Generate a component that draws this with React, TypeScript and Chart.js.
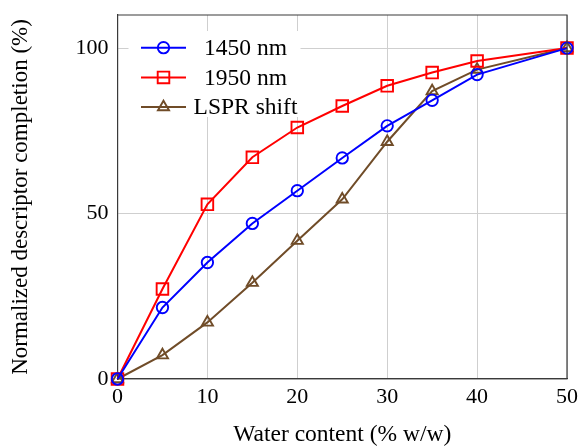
import React, { useEffect, useRef } from "react";
import { Chart, registerables } from "chart.js";

Chart.register(...registerables);

const waterContent = [0, 5, 10, 15, 20, 25, 30, 35, 40, 50];
const nm1450 = [0, 21.6, 35.2, 47.0, 56.9, 66.8, 76.5, 84.2, 92.0, 100];
const nm1950 = [0, 27.2, 52.8, 67.0, 76.0, 82.5, 88.6, 92.6, 96.1, 100];
const lsprShift = [0, 7.2, 17.1, 29.1, 41.8, 54.3, 71.7, 87.0, 93.5, 100];
const xTicks = [0, 10, 20, 30, 40, 50];
const yTicks = [0, 50, 100];
const seriesLabels = ["1450 nm", "1950 nm", "LSPR shift"];

const BROWN = "rgb(112,76,40)";
const FONT = "'Liberation Serif', 'DejaVu Serif', serif";

function drawMarker(ctx: CanvasRenderingContext2D, style: string, r: number, x: number, y: number) {
  ctx.beginPath();
  if (style === "circle") {
    ctx.arc(x, y, r, 0, Math.PI * 2);
  } else if (style === "rect") {
    const s = r * Math.SQRT1_2;
    ctx.rect(x - s, y - s, 2 * s, 2 * s);
  } else {
    for (let k = 0; k < 3; k++) {
      const a = (k * 2 * Math.PI) / 3;
      const px = x + Math.sin(a) * r;
      const py = y - Math.cos(a) * r;
      if (k === 0) ctx.moveTo(px, py);
      else ctx.lineTo(px, py);
    }
    ctx.closePath();
  }
  ctx.stroke();
}

const legendPlugin = {
  id: "innerLegend",
  afterDraw(chart: any) {
    const { ctx, chartArea } = chart;
    const x0 = chartArea.left + 11;
    const y0 = chartArea.top + 16;
    const w = 172;
    const rowH = 29.7;
    ctx.save();
    ctx.fillStyle = "#ffffff";
    ctx.fillRect(x0, y0, w, 86);
    chart.data.datasets.forEach((ds: any, i: number) => {
      const cy = chartArea.top + 32.7 + i * rowH;
      const lx0 = chartArea.left + 23.5;
      const lx1 = lx0 + 45;
      ctx.strokeStyle = ds.borderColor;
      ctx.lineWidth = ds.borderWidth;
      ctx.beginPath();
      ctx.moveTo(lx0, cy);
      ctx.lineTo(lx1, cy);
      ctx.stroke();
      ctx.lineWidth = ds.pointBorderWidth;
      drawMarker(ctx, ds.pointStyle, ds.pointRadius, (lx0 + lx1) / 2, cy);
      ctx.fillStyle = "#000";
      ctx.font = "23.5px " + FONT;
      ctx.textAlign = "center";
      ctx.textBaseline = "middle";
      ctx.fillText(ds.label, chartArea.left + 128, cy + 1);
    });
    ctx.restore();
  },
};

const zeroPad = (s: any) => {
  s.paddingTop = 0;
  s.paddingBottom = 0;
  s.paddingLeft = 0;
  s.paddingRight = 0;
};

export default function App() {
  const ref = useRef<HTMLCanvasElement>(null);
  useEffect(() => {
    if (!ref.current) return;
    const mk = (label: string, data: number[], color: string, style: string, r: number) => ({
      label,
      data: waterContent.map((x, i) => ({ x, y: data[i] })),
      borderColor: color,
      backgroundColor: "rgba(255,255,255,0)",
      pointBackgroundColor: "rgba(255,255,255,0)",
      pointBorderColor: color,
      borderWidth: 2,
      pointBorderWidth: 1.9,
      pointRadius: r,
      pointStyle: style,
      tension: 0,
      clip: false as any,
    });
    const chart = new Chart(ref.current, {
      type: "line",
      data: {
        datasets: [
          mk(seriesLabels[0], nm1450, "#0000ff", "circle", 5.7),
          mk(seriesLabels[1], nm1950, "#ff0000", "rect", 8.2),
          mk(seriesLabels[2], lsprShift, BROWN, "triangle", 6.4),
        ],
      },
      options: {
        animation: false,
        responsive: false,
        maintainAspectRatio: false,
        layout: { padding: { top: 15, right: 12, left: 0, bottom: 0 } },
        plugins: { legend: { display: false }, tooltip: { enabled: false } },
        scales: {
          x: {
            type: "linear",
            min: 0,
            max: 50,
            afterBuildTicks: (s: any) => {
              s.ticks = xTicks.map((v) => ({ value: v }));
            },
            afterFit: (s: any) => {
              s.height = 68;
              zeroPad(s);
            },
            grid: { color: "#cfcfcf", lineWidth: 1, drawTicks: false },
            border: { color: "#3a3a3a", width: 1.2 },
            ticks: { color: "#000", font: { family: FONT, size: 22 }, padding: 5 },
            title: {
              display: true,
              text: "Water content (% w/w)",
              color: "#000",
              font: { family: FONT, size: 23.5, lineHeight: 1 },
              padding: { top: 0, bottom: 0 },
            },
          },
          y: {
            type: "linear",
            min: 0,
            max: 110,
            afterBuildTicks: (s: any) => {
              s.ticks = yTicks.map((v) => ({ value: v }));
            },
            afterFit: (s: any) => {
              s.width = 117.5;
              zeroPad(s);
            },
            grid: { color: "#cfcfcf", lineWidth: 1, drawTicks: false },
            border: { color: "#3a3a3a", width: 1.2 },
            ticks: { color: "#000", font: { family: FONT, size: 22 }, padding: 9 },
            title: {
              display: true,
              text: "Normalized descriptor completion (%)",
              color: "#000",
              font: { family: FONT, size: 23, lineHeight: 1 },
              padding: { top: 9.5, bottom: 0 },
            },
          },
        },
      },
      plugins: [
        {
          id: "topRightBorder",
          afterDatasetsDraw(chart: any) {
            const { ctx, chartArea } = chart;
            ctx.save();
            ctx.strokeStyle = "#3a3a3a";
            ctx.lineWidth = 1.2;
            ctx.beginPath();
            ctx.moveTo(chartArea.left, chartArea.top);
            ctx.lineTo(chartArea.right, chartArea.top);
            ctx.lineTo(chartArea.right, chartArea.bottom);
            ctx.stroke();
            ctx.restore();
          },
        },
        legendPlugin,
      ],
    } as any);
    return () => chart.destroy();
  }, []);
  return (
    <div style={{ position: "fixed", left: 0, top: 0, width: 579, height: 447, background: "#fff" }}>
      <canvas ref={ref} width={579} height={447} style={{ width: 579, height: 447 }} />
    </div>
  );
}
